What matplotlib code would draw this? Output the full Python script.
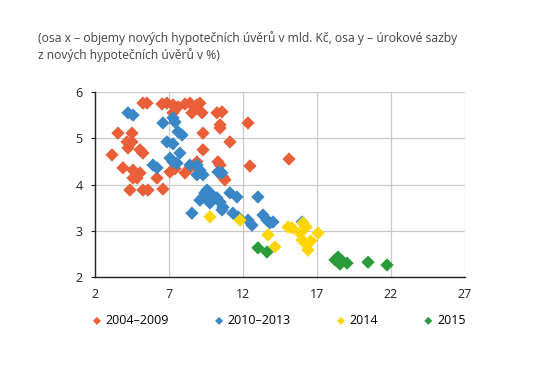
import matplotlib
matplotlib.use('Agg')
import matplotlib.pyplot as plt

plt.rcParams['font.family'] = ['Open Sans', 'DejaVu Sans']

# 2004-2009
x_0409 = [5.24, 5.51, 6.53, 6.86, 7.27, 7.61, 8.08, 8.42, 8.89, 9.09,
          7.27, 8.55, 9.23, 10.24, 10.58, 10.45, 10.45, 12.34, 9.30, 3.55,
          4.50, 11.12, 4.16, 4.50, 4.23, 5.04, 5.24, 3.15, 9.30, 3.89,
          4.57, 5.04, 4.84, 6.19, 7.07, 7.41, 8.42, 8.89, 10.31, 10.45,
          10.65, 10.78, 12.47, 15.11, 4.36, 5.24, 5.58, 6.59, 8.08, 4.57]
y_0409 = [5.76, 5.76, 5.74, 5.76, 5.72, 5.68, 5.74, 5.76, 5.72, 5.76,
          5.55, 5.55, 5.55, 5.55, 5.57, 5.29, 5.22, 5.33, 5.11, 5.11,
          5.11, 4.92, 4.92, 4.92, 4.79, 4.75, 4.68, 4.64, 4.75, 4.36,
          4.31, 4.25, 4.14, 4.14, 4.27, 4.34, 4.36, 4.49, 4.49, 4.42,
          4.16, 4.10, 4.40, 4.55, 3.88, 3.88, 3.88, 3.90, 4.25, 4.14]

# 2010-2013
x_1013 = [4.23, 4.57, 6.59, 7.27, 7.41, 7.61, 7.88, 6.86, 7.74, 7.07,
          7.27, 7.54, 5.92, 6.19, 8.89, 9.09, 9.30, 8.89, 10.31, 10.58,
          9.57, 9.77, 9.30, 9.09, 9.43, 9.77, 10.24, 10.45, 10.65, 11.12,
          11.59, 10.58, 8.55, 13.01, 11.32, 11.66, 12.34, 12.61, 13.35, 13.62,
          13.82, 14.03, 15.99, 8.42, 7.27]
y_1013 = [5.55, 5.50, 5.33, 5.44, 5.35, 5.14, 5.07, 4.92, 4.68, 4.57,
          4.49, 4.46, 4.42, 4.36, 4.42, 4.31, 4.21, 4.21, 4.27, 4.25,
          3.88, 3.82, 3.73, 3.66, 3.82, 3.60, 3.71, 3.62, 3.51, 3.82,
          3.73, 3.45, 3.38, 3.73, 3.38, 3.30, 3.23, 3.12, 3.34, 3.23,
          3.17, 3.19, 3.19, 4.42, 4.88]

# 2014
x_2014 = [9.77, 11.80, 13.69, 14.16, 15.04, 15.31, 16.05, 16.26, 15.85, 15.99,
          16.26, 16.59, 16.39, 17.07]
y_2014 = [3.30, 3.23, 2.91, 2.65, 3.08, 3.06, 3.17, 3.08, 2.95, 2.80,
          2.71, 2.78, 2.58, 2.95]

# 2015
x_2015 = [13.01, 13.62, 18.22, 18.42, 18.69, 19.03, 18.55, 20.45, 21.73]
y_2015 = [2.63, 2.54, 2.37, 2.43, 2.35, 2.30, 2.28, 2.32, 2.26]

series = [
    (x_0409, y_0409, '#EA5E38', '2004–2009'),
    (x_1013, y_1013, '#3A87C8', '2010–2013'),
    (x_2014, y_2014, '#FFD500', '2014'),
    (x_2015, y_2015, '#2A9B3A', '2015'),
]

fig = plt.figure(figsize=(5.5, 3.69), dpi=100)
ax = fig.add_axes([0.1727, 0.2493, 0.6727, 0.5014])

for xs, ys, c, lab in series:
    ax.scatter(xs, ys, marker='D', s=46, color=c, edgecolors='none',
               label=lab, zorder=3)

ax.set_xlim(2, 27)
ax.set_ylim(2, 6)
ax.set_xticks([2, 7, 12, 17, 22, 27])
ax.set_yticks([2, 3, 4, 5, 6])
ax.grid(True, color='#C8C8C8', linewidth=0.9, zorder=0)
for s in ['top', 'right']:
    ax.spines[s].set_visible(False)
for s in ['left', 'bottom']:
    ax.spines[s].set_color('#222222')
    ax.spines[s].set_linewidth(1.0)
ax.tick_params(axis='y', length=3, labelsize=9, colors='#222222', pad=6)
ax.tick_params(axis='x', length=0, labelsize=9, colors='#222222', pad=8)

fig.text(0.069, 0.915, '(osa x – objemy nových hypotečních úvěrů v mld. Kč, osa y – úrokové sazby\n'
         'z nových hypotečních úvěrů v %)', fontsize=8.7, color='#444444',
         va='top', ha='left', linespacing=1.25)

ax.legend(loc='upper center', bbox_to_anchor=(0.495, -0.14), ncol=4, frameon=False,
          fontsize=9, markerscale=0.6, handletextpad=0.2, columnspacing=3.5,
          handlelength=1.0)

fig.savefig('out.png', dpi=100)
